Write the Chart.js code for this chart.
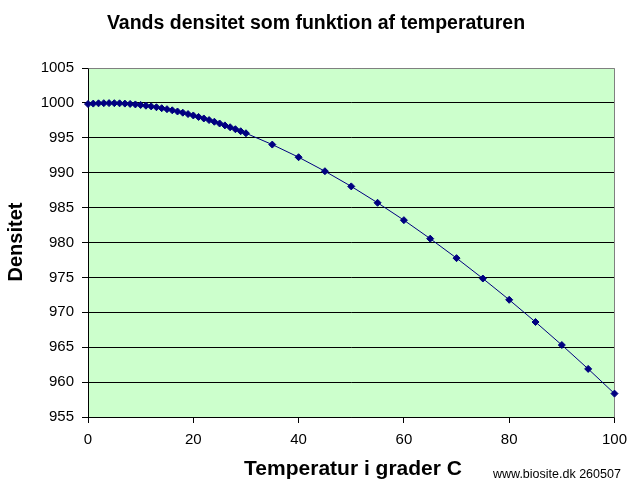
<!DOCTYPE html>
<html>
<head>
<meta charset="utf-8">
<script src="https://cdn.jsdelivr.net/npm/chart.js@4"></script>
<style>
  html, body { margin: 0; padding: 0; background: #ffffff; }
  #wrap { width: 635px; height: 490px; }
</style>
</head>
<body>
<div id="wrap"><canvas id="c" width="635" height="490"></canvas></div>
<script>
const chartTitle = "Vands densitet som funktion af temperaturen";
const xTitle = "Temperatur i grader C";
const yTitle = "Densitet";
const credit = "www.biosite.dk 260507";

const temperatures = [0,1,2,3,4,5,6,7,8,9,10,11,12,13,14,15,16,17,18,19,20,21,22,23,24,25,26,27,28,29,30,35,40,45,50,55,60,65,70,75,80,85,90,95,100];
const densities = [999.84,999.90,999.94,999.96,999.97,999.96,999.94,999.90,999.85,999.78,999.70,999.60,999.50,999.38,999.24,999.10,998.94,998.77,998.60,998.40,998.20,997.99,997.77,997.54,997.30,997.05,996.78,996.51,996.23,995.94,995.65,994.03,992.22,990.21,988.04,985.69,983.20,980.55,977.76,974.84,971.79,968.61,965.31,961.89,958.35];

const xTicks = [0,20,40,60,80,100];
const yTicks = [955,960,965,970,975,980,985,990,995,1000,1005];

const points = temperatures.map((t, i) => ({ x: t, y: densities[i] }));

const FONT = "'Liberation Sans', Arial, sans-serif";

const decor = {
  id: 'decor',
  beforeDraw(chart) {
    const { ctx, chartArea: a } = chart;
    ctx.save();
    ctx.fillStyle = '#ffffff';
    ctx.fillRect(0, 0, chart.width, chart.height);
    ctx.fillStyle = '#CCFFCC';
    ctx.fillRect(a.left, a.top, a.right - a.left, a.bottom - a.top);
    ctx.restore();
  },
  beforeDatasetsDraw(chart) {
    const { ctx, chartArea: a } = chart;
    ctx.save();
    ctx.strokeStyle = '#808080';
    ctx.lineWidth = 1;
    ctx.beginPath();
    ctx.moveTo(Math.round(a.left) + 0.5, Math.round(a.top) + 0.5);
    ctx.lineTo(Math.round(a.right) + 0.5, Math.round(a.top) + 0.5);
    ctx.lineTo(Math.round(a.right) + 0.5, Math.round(a.bottom) + 0.5);
    ctx.stroke();
    ctx.restore();
  },
  afterDraw(chart) {
    const { ctx } = chart;
    ctx.save();
    ctx.fillStyle = '#000000';
    ctx.textAlign = 'center';
    ctx.textBaseline = 'middle';
    ctx.font = "bold 19.5px " + FONT;
    ctx.fillText(chartTitle, 316, 24);
    ctx.font = "bold 21px " + FONT;
    ctx.fillText(xTitle, 353, 469);
    ctx.font = "bold 20px " + FONT;
    ctx.save();
    ctx.translate(16, 242);
    ctx.rotate(-Math.PI / 2);
    ctx.fillText(yTitle, 0, 0);
    ctx.restore();
    ctx.font = "12.5px " + FONT;
    ctx.textAlign = 'left';
    ctx.fillText(credit, 493, 475);
    ctx.restore();
  }
};

new Chart(document.getElementById('c'), {
  type: 'scatter',
  data: {
    datasets: [{
      data: points,
      showLine: true,
      borderColor: '#000080',
      borderWidth: 1,
      backgroundColor: '#000080',
      pointStyle: 'rectRot',
      pointRadius: 3.5,
      pointBorderWidth: 1,
      pointBorderColor: '#000080',
      pointBackgroundColor: '#000080',
      tension: 0,
      clip: false
    }]
  },
  options: {
    responsive: false,
    animation: false,
    events: [],
    layout: { padding: { top: 68, right: 18, left: 0, bottom: 0 } },
    plugins: { legend: { display: false }, title: { display: false }, tooltip: { enabled: false } },
    scales: {
      x: {
        type: 'linear',
        min: 0, max: 100,
        afterFit(s) { s.height = 73; },
        afterBuildTicks(s) { s.ticks = xTicks.map(v => ({ value: v })); },
        ticks: { color: '#000000', font: { family: FONT, size: 15 }, padding: 8, maxRotation: 0, callback: (v) => String(v) },
        grid: { drawOnChartArea: false, drawTicks: true, tickLength: 6, color: '#000000', lineWidth: 1 },
        border: { color: '#000000', width: 1 }
      },
      y: {
        type: 'linear',
        min: 955, max: 1005,
        afterFit(s) { s.width = 88; },
        afterBuildTicks(s) { s.ticks = yTicks.map(v => ({ value: v })); },
        ticks: { color: '#000000', font: { family: FONT, size: 15 }, padding: 8, callback: (v) => String(v) },
        grid: {
          drawOnChartArea: true, drawTicks: true, tickLength: 6, lineWidth: 1,
          color: (c) => (c.tick && c.tick.value === 1005) ? '#808080' : '#000000',
          tickColor: '#000000'
        },
        border: { color: '#000000', width: 1 }
      }
    }
  },
  plugins: [decor]
});
</script>
</body>
</html>
